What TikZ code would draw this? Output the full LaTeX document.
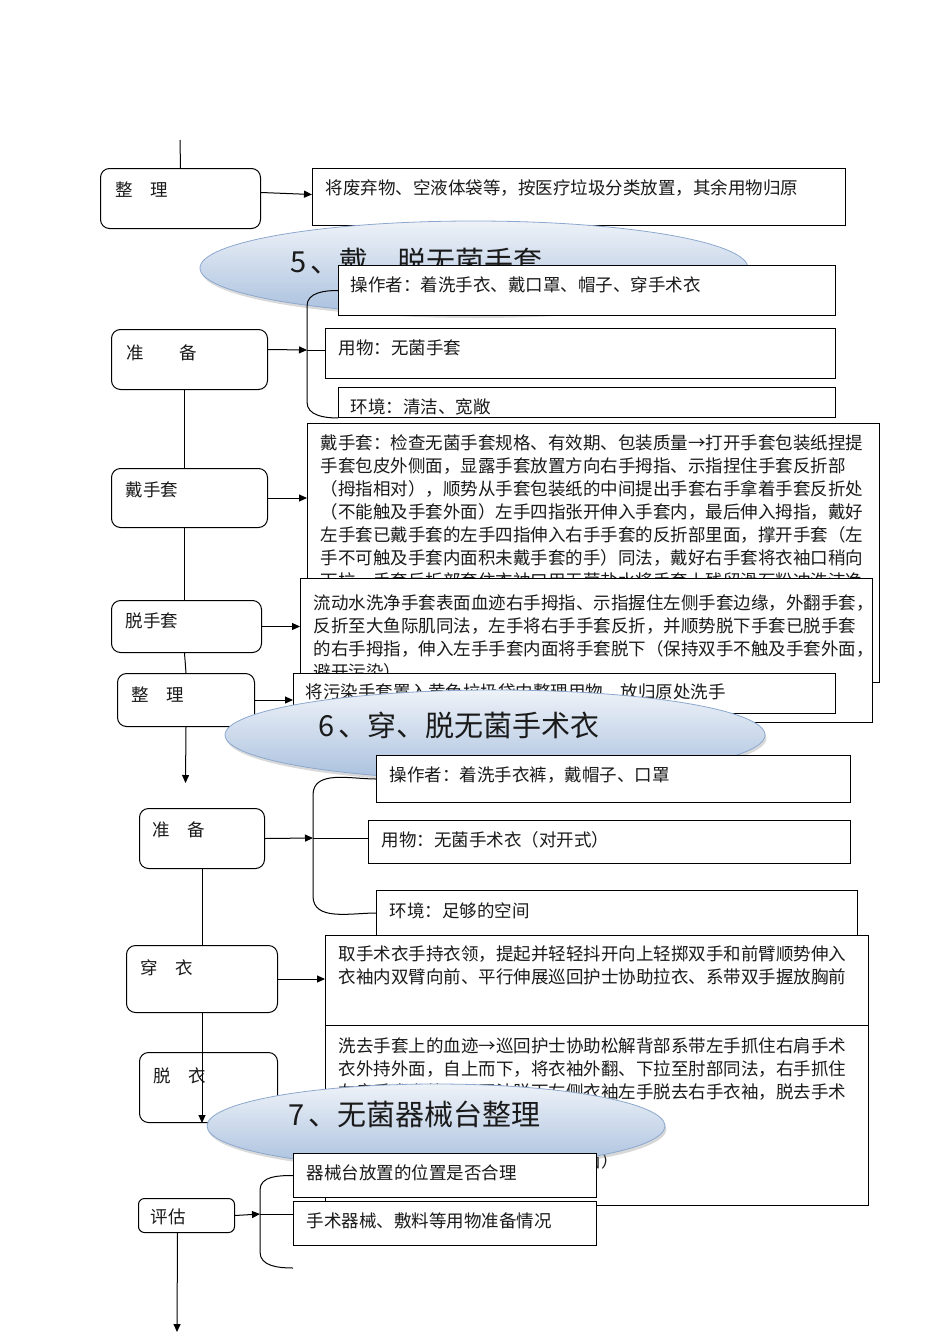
\documentclass[tikz,border=0pt]{standalone}
\usepackage{fontspec}
\usepackage{tikz}
\usetikzlibrary{shapes.geometric,shadows,arrows.meta}
\newfontfamily\cjk{Noto Sans CJK SC}
\newcommand\bodyfont{\cjk\fontsize{17.5pt}{23pt}\selectfont}
\newcommand\titlefont{\cjk\fontsize{29pt}{33pt}\selectfont}
\definecolor{ink}{HTML}{1A1A1A}
\definecolor{ovaltop}{HTML}{EEF2F8}
\definecolor{ovalbot}{HTML}{A9C0DE}
\definecolor{ovalline}{HTML}{8CA8CF}

\begin{document}
\begin{tikzpicture}[x=1pt, y=-1pt, line width=1pt, >={Triangle[length=8pt,width=7pt]},
    stage/.style = {draw, fill=white, rounded corners=9pt, anchor=north west, inner sep=0pt},
    info/.style = {draw, fill=white, anchor=north west, inner sep=0pt},
    txt/.style = {anchor=north west, inner sep=0pt, xshift=13pt, yshift=-11pt, align=left, font=\bodyfont, text=ink},
    oval/.style = {ellipse, draw=ovalline, line width=0.8pt, top color=ovaltop, bottom color=ovalbot,
        drop shadow={shadow xshift=1.5pt, shadow yshift=-3pt, opacity=0.3}, inner sep=0pt},
    heading/.style = {font=\titlefont, text=ink, inner sep=0pt, anchor=west}]
    \useasboundingbox (0,0) rectangle (950,1344);

    % end of the previous step
    \coordinate (top) at (180,140);
    \node[stage, minimum width=160pt, minimum height=60pt, label={[txt, xshift=2pt, yshift=-2pt]north west:整　理}] (zl1) at (100,168) {};
    \node[info, minimum width=533pt, minimum height=57pt, label={[txt]north west:将废弃物、空液体袋等，按医疗垃圾分类放置，其余用物归原}] (zt1) at (312,168) {};
    \draw (top) -- (zl1.north);
    \draw[->] ([yshift=6pt]zl1.east) -- ([yshift=2.5pt]zt1.west);

    % 5
    \node[oval, minimum width=548pt, minimum height=94pt] (e5) at (474,268) {};
    \node[heading] (t5) at (290,262) {5\hspace{4pt}、戴、脱无菌手套};
    \node[info, minimum width=497pt, minimum height=50pt, label={[txt, xshift=-1pt]north west:操作者：着洗手衣、戴口罩、帽子、穿手术衣}] (p5a) at (338,265) {};
    \node[info, minimum width=510pt, minimum height=50pt, label={[txt]north west:用物：无菌手套}] (p5b) at (325,328) {};
    \node[info, minimum width=497pt, minimum height=30pt, label={[txt, xshift=-1pt]north west:环境：清洁、宽敞}] (p5c) at (338,387) {};
    \node[stage, minimum width=156pt, minimum height=60pt, label={[txt, xshift=2pt, yshift=-4pt]north west:准　　备}] (s5) at (111,329) {};
    \coordinate (b5) at (307,350);
    \draw (p5a.west) to[out=180,in=90] (307,306) -- (b5) -- (307,402) to[out=-90,in=180] (p5c.south west);
    \draw[->] ([yshift=10pt]s5.east) -- (b5);
    \draw (b5) -- (b5 -| p5b.west);

    \node[info, minimum width=572pt, minimum height=259pt, label={[txt]north west:戴手套：检查无菌手套规格、有效期、包装质量→打开手套包装纸捏提\\
手套包皮外侧面，显露手套放置方向右手拇指、示指捏住手套反折部\\
（拇指相对），顺势从手套包装纸的中间提出手套右手拿着手套反折处\\
（不能触及手套外面）左手四指张开伸入手套内，最后伸入拇指，戴好\\
左手套已戴手套的左手四指伸入右手手套的反折部里面，撑开手套（左\\
手不可触及手套内面积未戴手套的手）同法，戴好右手套将衣袖口稍向\\
下拉，手套反折部套住衣袖口用无菌盐水将手套上残留滑石粉冲洗洁净}] (d5) at (307,423) {};
    \node[stage, minimum width=156pt, minimum height=59pt, label={[txt, xshift=1pt, yshift=-2pt]north west:戴手套}] (s5d) at (111,468) {};
    \draw ([xshift=-5pt]s5.south) -- ([xshift=-5pt]s5d.north);
    \draw[->] (s5d.east) -- (s5d.east -| d5.west);

    \node[info, minimum width=572pt, minimum height=144pt, label={[txt, yshift=-5pt]north west:流动水洗净手套表面血迹右手拇指、示指握住左侧手套边缘，外翻手套，\\
反折至大鱼际肌同法，左手将右手手套反折，并顺势脱下手套已脱手套\\
的右手拇指，伸入左手手套内面将手套脱下（保持双手不触及手套外面，\\
避开污染）}] (r5) at (300,578) {};
    \node[stage, minimum width=150pt, minimum height=52pt, label={[txt, xshift=1pt, yshift=-1pt]north west:脱手套}] (s5r) at (111,600) {};
    \draw ([xshift=-5pt]s5d.south) -- ([xshift=-2pt]s5r.north);
    \draw[->] (s5r.east) -- (s5r.east -| r5.west);

    \node[info, minimum width=542pt, minimum height=40pt, label={[txt, xshift=-1pt, yshift=1pt]north west:将污染手套置入黄色垃圾袋内整理用物，放归原处洗手}] (z5) at (293,673) {};
    \node[stage, minimum width=137pt, minimum height=53pt, label={[txt, xshift=1pt, yshift=-2pt]north west:整　理}] (s5z) at (117,673) {};
    \draw ([xshift=-2pt]s5r.south) -- (s5z.north);
    \draw[->] (s5z.east) -- (s5z.east -| z5.west);

    % 6
    \node[oval, minimum width=540pt, minimum height=90pt] (e6) at (495,735) {};
    \node[heading] (t6) at (318,725) {6\hspace{4pt}、穿、脱无菌手术衣};
    \coordinate (d6) at (185.5,783);
    \draw[->] (s5z.south) -- (d6);
    \node[info, minimum width=474pt, minimum height=47pt, label={[txt]north west:操作者：着洗手衣裤，戴帽子、口罩}] (q6a) at (376,755) {};
    \node[info, minimum width=482pt, minimum height=43pt, label={[txt]north west:用物：无菌手术衣（对开式）}] (q6b) at (368,820) {};
    \node[info, minimum width=481pt, minimum height=45pt, label={[txt, yshift=-1pt]north west:环境：足够的空间}] (q6c) at (376,890) {};
    \node[stage, minimum width=125pt, minimum height=60pt, label={[txt, yshift=-2pt]north west:准　备}] (s6) at (139,808) {};
    \coordinate (b6) at (313,838);
    \draw (q6a.west) to[out=180,in=90] (313,795) -- (b6) -- (313,896) to[out=-90,in=180] (q6c.west);
    \draw[->] (s6.east) -- (b6);
    \draw (b6) -- (b6 -| q6b.west);

    \node[info, minimum width=543pt, minimum height=90pt, label={[txt, yshift=1pt]north west:取手术衣手持衣领，提起并轻轻抖开向上轻掷双手和前臂顺势伸入\\
衣袖内双臂向前、平行伸展巡回护士协助拉衣、系带双手握放胸前}] (w6) at (325,935) {};
    \node[info, minimum width=543pt, minimum height=180pt, label={[txt, yshift=-1pt]north west:洗去手套上的血迹→巡回护士协助松解背部系带左手抓住右肩手术\\
衣外持外面，自上而下，将衣袖外翻、下拉至肘部同法，右手抓住\\
左肩手术衣外面，同法脱下左侧衣袖左手脱去右手衣袖，脱去手术\\
衣\\[23pt]
（注意保持双手不触及手术衣外面）}] (u6) at (325,1025) {};
    \node[stage, minimum width=151pt, minimum height=67pt, label={[txt, xshift=1pt, yshift=-3pt]north west:穿　衣}] (s6w) at (126,945) {};
    \node[stage, minimum width=138pt, minimum height=70pt, label={[txt, xshift=1pt, yshift=-4pt]north west:脱　衣}] (s6u) at (139,1052) {};
    \draw (s6.south) -- (s6w.north);
    \draw[->] (s6w.east) -- (s6w.east -| w6.west);
    \draw[->] (s6w.south) -- (s6w.south |- s6u.south);

    % 7
    \node[oval, minimum width=458pt, minimum height=84pt] (e7) at (436,1126) {};
    \node[heading] (t7) at (288,1114) {7\hspace{4pt}、无菌器械台整理};
    \node[info, minimum width=303pt, minimum height=44pt, label={[txt]north west:器械台放置的位置是否合理}] (k7a) at (293,1153) {};
    \node[info, minimum width=303pt, minimum height=44pt, label={[txt]north west:手术器械、敷料等用物准备情况}] (k7b) at (293,1201) {};
    \node[stage, minimum width=96pt, minimum height=34pt, rounded corners=6pt, label={[txt, xshift=-1pt, yshift=1pt]north west:评估}] (s7) at (138,1198) {};
    \coordinate (b7) at (260,1214);
    \coordinate (c7) at (293,1268);
    \draw (k7a.west) to[out=180,in=90] (260,1190) -- (b7) -- (260,1252) to[out=-90,in=180] (c7);
    \draw[->] (s7.east) -- (b7);
    \draw (b7) -- (b7 -| k7b.west);
    \coordinate (tail) at (177,1332);
    \draw[->] ([xshift=-9pt]s7.south) -- (tail);
\end{tikzpicture}
\end{document}
